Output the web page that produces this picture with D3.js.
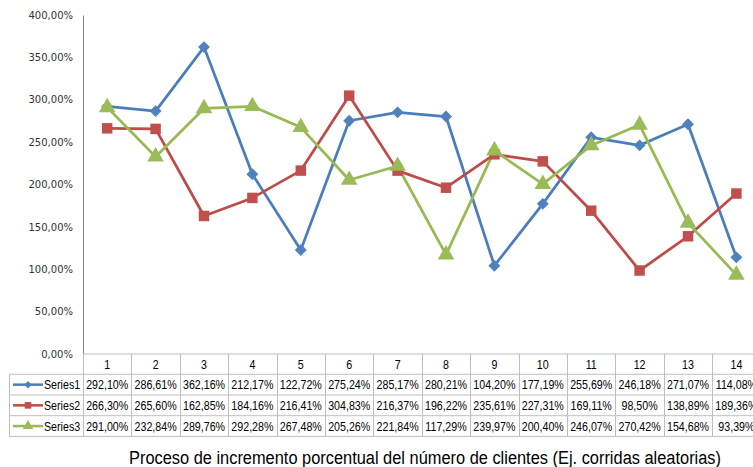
<!DOCTYPE html>
<html>
<head>
<meta charset="utf-8">
<script src="https://cdn.jsdelivr.net/npm/d3@7"></script>
<style>
  html, body { margin: 0; padding: 0; background: #fff; overflow: hidden; }
  svg { display: block; }
</style>
</head>
<body>
<svg id="chart" width="753" height="467"></svg>
<script>
// Categories (random runs) and the three series, in percent
const categories = ["1","2","3","4","5","6","7","8","9","10","11","12","13","14"];
const seriesNames = ["Series1", "Series2", "Series3"];
const series1 = [292.10, 286.61, 362.16, 212.17, 122.72, 275.24, 285.17, 280.21, 104.20, 177.19, 255.69, 246.18, 271.07, 114.08];
const series2 = [266.30, 265.60, 162.85, 184.16, 216.41, 304.83, 216.37, 196.22, 235.61, 227.31, 169.11, 98.50, 138.89, 189.36];
const series3 = [291.00, 232.84, 289.76, 292.28, 267.48, 205.26, 221.84, 117.29, 239.97, 200.40, 246.07, 270.42, 154.68, 93.39];
const yTicks = [0, 50, 100, 150, 200, 250, 300, 350, 400];
const title = "Proceso de incremento porcentual del número de clientes (Ej. corridas aleatorias)";

const lineColors = ["#4A7EBB", "#BE4B48", "#98B954"];
const markerColors = ["#4F81BD", "#C0504D", "#9BBB59"];
const markerTypes = [d3.symbolDiamond2, d3.symbolSquare, d3.symbolTriangle];
const markerSizes = [90, 110, 120];

const allSeries = [series1, series2, series3].map((vals, i) => ({
  name: seriesNames[i], values: vals, line: lineColors[i], marker: markerColors[i],
  type: markerTypes[i], size: markerSizes[i]
}));

const fmt = v => v.toFixed(2).replace(".", ",") + "%";

const svg = d3.select("#chart");
const left = 83, colW = 48.4;
const x = d3.scaleBand().domain(categories).range([left, left + colW * categories.length]);
const y = d3.scaleLinear().domain([0, 400]).range([354, 15]);

const tableFont = "'Liberation Sans', Arial, sans-serif";
const gridColor = "#BFBFBF";

// narrow the sans face horizontally so the table reads like a condensed font
function condense(sel, factor) {
  sel.each(function () {
    const w = this.getComputedTextLength();
    d3.select(this).attr("textLength", w * factor).attr("lengthAdjust", "spacingAndGlyphs");
  });
}

// Value axis
const yAxis = d3.axisLeft(y).tickValues(yTicks).tickSize(0).tickPadding(10)
  .tickFormat(d => d.toFixed(2).replace(".", ",") + "%");
const gy = svg.append("g").attr("transform", `translate(${left},0)`).call(yAxis);
gy.select(".domain").attr("stroke", "#868686").attr("stroke-width", 1);
gy.selectAll("text").attr("font-family", "'DejaVu Sans', sans-serif").attr("font-size", 10).attr("fill", "#333");

// Data table beneath the plot
const rowTop = 354, headH = 20.3, rowH = 20.7;
const tableRight = x.range()[1];
const tbl = svg.append("g");
const rowsY = [rowTop, rowTop + headH, rowTop + headH + rowH, rowTop + headH + 2 * rowH, rowTop + headH + 3 * rowH];

// horizontal rules
tbl.append("line").attr("x1", left).attr("x2", tableRight).attr("y1", rowsY[0]).attr("y2", rowsY[0])
  .attr("stroke", gridColor);
rowsY.slice(1).forEach(yy => {
  tbl.append("line").attr("x1", 9).attr("x2", tableRight).attr("y1", yy).attr("y2", yy).attr("stroke", gridColor);
});
// vertical rules
tbl.append("line").attr("x1", 9.5).attr("x2", 9.5).attr("y1", rowsY[1]).attr("y2", rowsY[4]).attr("stroke", gridColor);
categories.forEach(c => {
  const xx = Math.round(x(c) + x.bandwidth()) + 0.5;
  tbl.append("line").attr("x1", xx).attr("x2", xx).attr("y1", rowsY[0]).attr("y2", rowsY[4]).attr("stroke", gridColor);
});
tbl.append("line").attr("x1", left + 0.5).attr("x2", left + 0.5).attr("y1", rowsY[0]).attr("y2", rowsY[4]).attr("stroke", gridColor);

// header: category labels
tbl.selectAll("text.cat").data(categories).join("text")
  .attr("class", "cat")
  .attr("x", d => x(d) + x.bandwidth() / 2)
  .attr("y", rowsY[0] + headH / 2 + 4.5)
  .attr("text-anchor", "middle")
  .attr("font-family", tableFont).attr("font-size", 13).attr("fill", "#000")
  .text(d => d)
  .call(condense, 0.82);

// series rows: legend key + values
allSeries.forEach((s, i) => {
  const cy = rowsY[i + 1] + rowH / 2;
  tbl.append("line").attr("x1", 13).attr("x2", 43).attr("y1", cy).attr("y2", cy)
    .attr("stroke", s.line).attr("stroke-width", 2.5);
  tbl.append("path").attr("d", d3.symbol().type(s.type).size(s.size * 0.4)())
    .attr("transform", `translate(28,${cy})`).attr("fill", s.marker);
  tbl.append("text").attr("x", 44).attr("y", cy + 4.5)
    .attr("font-family", tableFont).attr("font-size", 13).attr("fill", "#000")
    .text(s.name)
    .call(condense, 0.82);
  tbl.selectAll(null).data(s.values).join("text")
    .attr("x", (d, k) => x(categories[k]) + x.bandwidth() / 2)
    .attr("y", cy + 4.5)
    .attr("text-anchor", "middle")
    .attr("font-family", tableFont).attr("font-size", 13).attr("fill", "#000")
    .text(d => fmt(d))
    .call(condense, 0.82);
});

// lines and markers
const line = d3.line()
  .x((d, k) => x(categories[k]) + x.bandwidth() / 2)
  .y(d => y(d));

allSeries.forEach(s => {
  svg.append("path").datum(s.values).attr("d", line)
    .attr("fill", "none").attr("stroke", s.line).attr("stroke-width", 2.75)
    .attr("stroke-linejoin", "round");
});
allSeries.forEach(s => {
  svg.selectAll(null).data(s.values).join("path")
    .attr("d", d3.symbol().type(s.type).size(s.size)())
    .attr("transform", (d, k) => `translate(${x(categories[k]) + x.bandwidth() / 2},${y(d)})`)
    .attr("fill", s.marker);
});

// chart title below the table
svg.append("text")
  .attr("x", 425).attr("y", 463.5)
  .attr("text-anchor", "middle")
  .attr("font-family", tableFont).attr("font-size", 18).attr("fill", "#000")
  .text(title)
  .attr("textLength", 592).attr("lengthAdjust", "spacingAndGlyphs");
</script>
</body>
</html>
